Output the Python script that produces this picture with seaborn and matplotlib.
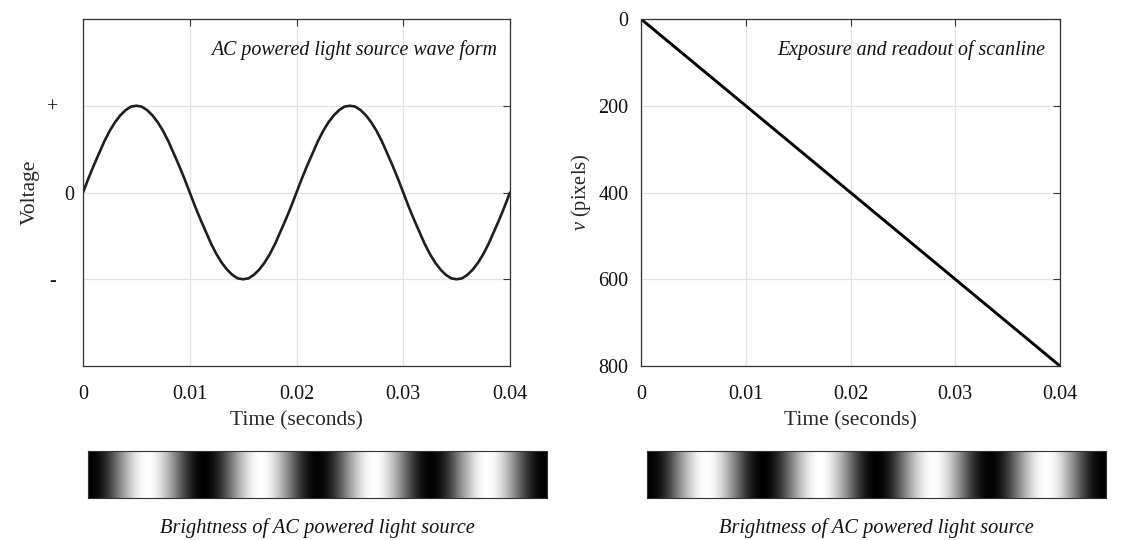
import numpy as np
import pandas as pd
import matplotlib
matplotlib.use("Agg")
import matplotlib.pyplot as plt
import matplotlib.transforms as mtransforms
import seaborn as sns

# data (one sample every 0.5 ms)
time_s = [i * 0.0005 for i in range(81)]
voltage = [0.00, 0.16, 0.31, 0.45, 0.59, 0.71, 0.81, 0.89, 0.95, 0.99,
           1.00, 0.99, 0.95, 0.89, 0.81, 0.71, 0.59, 0.45, 0.31, 0.16,
           0.00, -0.16, -0.31, -0.45, -0.59, -0.71, -0.81, -0.89, -0.95, -0.99,
           -1.00, -0.99, -0.95, -0.89, -0.81, -0.71, -0.59, -0.45, -0.31, -0.16,
           0.00, 0.16, 0.31, 0.45, 0.59, 0.71, 0.81, 0.89, 0.95, 0.99,
           1.00, 0.99, 0.95, 0.89, 0.81, 0.71, 0.59, 0.45, 0.31, 0.16,
           0.00, -0.16, -0.31, -0.45, -0.59, -0.71, -0.81, -0.89, -0.95, -0.99,
           -1.00, -0.99, -0.95, -0.89, -0.81, -0.71, -0.59, -0.45, -0.31, -0.16,
           0.00]
scan_time = [0.0, 0.04]
scan_row = [0, 800]

x_ticks = [0, 0.01, 0.02, 0.03, 0.04]
x_tick_labels = ["0", "0.01", "0.02", "0.03", "0.04"]
v_ticks = [-1, 0, 1]
v_tick_labels = ["-", "0", "+"]
row_ticks = [0, 200, 400, 600, 800]

sns.set_style("whitegrid")
plt.rcParams["font.family"] = ["Liberation Serif", "DejaVu Serif"]
plt.rcParams["mathtext.fontset"] = "custom"
plt.rcParams["mathtext.it"] = "Liberation Serif:italic"
plt.rcParams["mathtext.rm"] = "Liberation Serif"
plt.rcParams["text.color"] = "#111111"

fig = plt.figure(figsize=(11.29, 5.40), dpi=100)
W, H = 1129, 540


def box(l, t, r, b):
    return [l / W, (H - b) / H, (r - l) / W, (b - t) / H]


ax1 = fig.add_axes(box(83, 19, 510, 366))
ax2 = fig.add_axes(box(641, 19, 1060, 366))
bar1 = fig.add_axes(box(88, 451, 547, 498))
bar2 = fig.add_axes(box(647, 451, 1106, 498))

wave = pd.DataFrame({"t": time_s, "v": voltage})
sns.lineplot(data=wave, x="t", y="v", ax=ax1, color="#1e1e1e", linewidth=1.9)
scan = pd.DataFrame({"t": scan_time, "row": scan_row})
sns.lineplot(data=scan, x="t", y="row", ax=ax2, color="black", linewidth=2.1)

for ax in (ax1, ax2):
    ax.set_xlim(0, 0.04)
    ax.set_xticks(x_ticks)
    ax.set_xticklabels(x_tick_labels)
    ax.grid(True, color="#e3e3e3", linewidth=0.9)
    ax.tick_params(direction="in", length=5, width=0.8, top=True, right=True,
                   labelsize=14.5, color="#333333", labelcolor="#111111", pad=9)
    ax.tick_params(axis="x", pad=14)
    for s in ax.spines.values():
        s.set_color("#333333")
        s.set_linewidth(0.9)
    ax.set_xlabel("Time (seconds)", fontsize=15.5, labelpad=5)

ax1.set_ylim(-2, 2)
ax1.set_yticks(v_ticks)
ax1.set_yticklabels(v_tick_labels)
ax1.tick_params(axis="y", pad=22)
for lab in ax1.get_yticklabels():
    lab.set_horizontalalignment("center")
# the "0" sits further right than the signs, as in the reference
zero_lab = ax1.get_yticklabels()[1]
zero_lab.set_transform(zero_lab.get_transform()
                       + mtransforms.ScaledTranslation(0.17, 0, fig.dpi_scale_trans))
ax1.set_ylabel("Voltage", fontsize=15.5, labelpad=5)
ax1.text(0.97, 0.91, "AC powered light source wave form", transform=ax1.transAxes,
         ha="right", va="center", fontsize=14.3, style="italic")

ax2.set_ylim(800, 0)
ax2.set_yticks(row_ticks)
ax2.set_ylabel("$v$ (pixels)", fontsize=14.7, labelpad=4)
ax2.text(0.965, 0.91, "Exposure and readout of scanline", transform=ax2.transAxes,
         ha="right", va="center", fontsize=14.3, style="italic")

# brightness strip follows the power drawn from the AC voltage
brightness = np.array(voltage) ** 2
for bar in (bar1, bar2):
    bar.imshow(brightness[np.newaxis, :], cmap="gray", aspect="auto",
               interpolation="bicubic", vmin=0, vmax=1)
    bar.set_xticks([])
    bar.set_yticks([])
    bar.grid(False)
    for s in bar.spines.values():
        s.set_color("#333333")
        s.set_linewidth(0.8)
    bar.text(0.5, -0.43, "Brightness of AC powered light source", transform=bar.transAxes,
             ha="center", va="top", fontsize=14.7, style="italic")

fig.savefig("out.png", dpi=100, facecolor="white")
